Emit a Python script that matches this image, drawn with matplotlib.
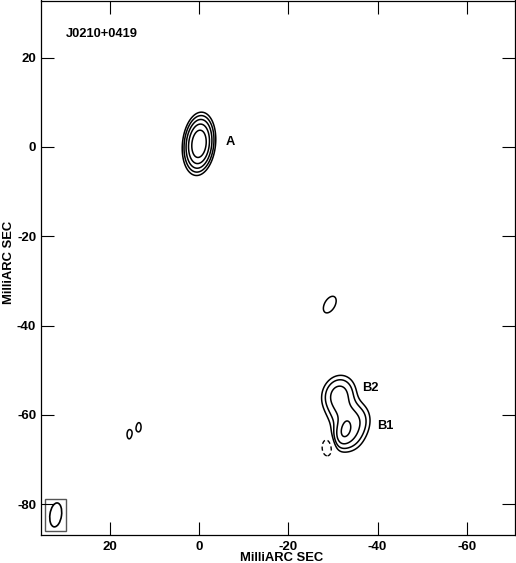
import numpy as np
import matplotlib
matplotlib.use('Agg')
from matplotlib import pyplot as plt
from matplotlib.patches import Ellipse, Rectangle

plt.rcParams['font.family'] = ['Liberation Sans', 'DejaVu Sans']
plt.rcParams['font.weight'] = 'bold'
plt.rcParams['axes.unicode_minus'] = False

source = "J0210+0419"
# gaussian model components: x, y (mas), peak (in units of lowest contour), sigma_x, sigma_y, angle (deg)
comp_x = [0.0, -31.3, -32.5, -35.5, -33.2, -32.6, -29.3, 15.7, 13.4, -28.8]
comp_y = [0.7, -55.5, -59.5, -61.5, -64.5, -63.4, -35.3, -64.4, -62.7, -67.2]
comp_peak = [30.0, 5.5, 3.5, 3.0, 4.0, 5.0, 1.6, 1.1, 1.1, -1.9]
comp_sx = [1.42, 2.0, 2.0, 1.8, 2.0, 1.1, 1.2, 0.92, 0.92, 1.1]
comp_sy = [2.73, 2.4, 2.2, 2.4, 2.2, 2.0, 2.1, 2.0, 2.0, 1.8]
comp_pa = [6, 20, 10, 10, 10, 15, 30, 0, 0, 0]
levels = [-1, 1, 2, 4, 8, 16]

# restoring beam
beam_x, beam_y = 32.1, -82.4
beam_w, beam_h, beam_pa = 2.6, 5.4, 8

labels = ["A", "B2", "B1"]
label_x = [-5.9, -36.5, -40.0]
label_y = [1.0, -54.0, -62.5]

xx, yy = np.meshgrid(np.arange(-72, 36, 0.12), np.arange(-88, 34, 0.12))
img = np.zeros_like(xx)
for i in range(len(comp_x)):
    t = np.radians(comp_pa[i])
    dx = xx - comp_x[i]
    dy = yy - comp_y[i]
    u = dx * np.cos(t) + dy * np.sin(t)
    v = -dx * np.sin(t) + dy * np.cos(t)
    img += comp_peak[i] * np.exp(-(u**2 / (2 * comp_sx[i]**2) + v**2 / (2 * comp_sy[i]**2)))

fig = plt.figure(figsize=(5.16, 5.63), dpi=100, facecolor='w')
ax = fig.add_axes([41 / 516, 28 / 563, 474 / 516, 534.5 / 563])
ax.contour(xx, yy, img, levels=[l for l in levels if l > 0], colors='k', linewidths=1.1)
neg = ax.contour(xx, yy, img, levels=[l for l in levels if l < 0], colors='k', linewidths=1.0)
neg.set_linestyle((0, (3, 2)))

ax.add_patch(Ellipse((beam_x, beam_y), beam_w, beam_h, angle=beam_pa, fill=False, ec='k', lw=1.2))
ax.add_patch(Rectangle((29.9, -86.1), 4.5, 7.2, fill=False, ec='#555555', lw=1.0))

for i in range(len(labels)):
    ax.text(label_x[i], label_y[i], labels[i], fontsize=9.3, fontweight='bold', ha='left', va='center')
ax.text(29.8, 25.4, source, fontsize=9.3, fontweight='bold', ha='left', va='center')

ax.set_xlim(35.4, -70.8)
ax.set_ylim(-86.9, 32.8)
ax.set_xticks([20, 0, -20, -40, -60])
ax.set_yticks([20, 0, -20, -40, -60, -80])
ax.tick_params(direction='in', length=9.4, width=0.8, top=True, right=True, labelsize=9.5)
ax.tick_params(axis='x', pad=4.0)
ax.tick_params(axis='y', pad=3.5)
for s in ax.spines.values():
    s.set_linewidth(0.9)
ax.set_xlabel("MilliARC SEC", fontsize=9.4, fontweight='bold')
ax.set_ylabel("MilliARC SEC", fontsize=9.4, fontweight='bold')
ax.xaxis.set_label_coords(0.507, -0.031)
ax.yaxis.set_label_coords(-0.054, 0.51)

fig.savefig('out.png', dpi=100)
